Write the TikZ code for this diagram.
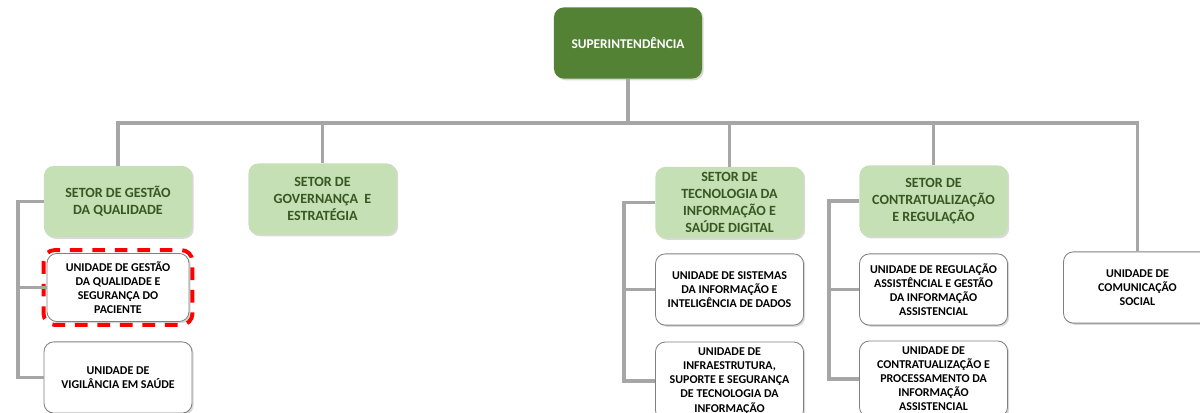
\documentclass[tikz,border=0pt]{standalone}
\usepackage{fontspec}
\setmainfont{Carlito}
\usepackage{tikz}
\usetikzlibrary{shadows}
\definecolor{supgreen}{HTML}{548235}
\definecolor{setorfill}{HTML}{C5E0B4}
\definecolor{setortext}{HTML}{385723}
\definecolor{linegray}{HTML}{A6A6A6}
\definecolor{boxgray}{HTML}{808080}

\begin{document}
\begin{tikzpicture}[x=0.025cm, y=-0.025cm,
        box/.style={rectangle, rounded corners=7pt, align=center, inner sep=2pt,
            minimum width=3.7cm, minimum height=1.78cm,
            drop shadow={shadow xshift=1.2pt, shadow yshift=-1.2pt, opacity=0.3}},
        sup/.style={box, fill=supgreen, text=white, font=\bfseries\fontsize{9.5}{11.5}\selectfont},
        setor/.style={box, fill=setorfill, text=setortext, font=\bfseries\fontsize{10}{12}\selectfont},
        unidade/.style={box, draw=boxgray, line width=0.6pt, fill=white, font=\bfseries\fontsize{8.5}{10}\selectfont},
        destaque/.style={draw=red, line width=2.8pt, dash pattern=on 9pt off 7pt, rounded corners=8pt},
        conn/.style={draw=linegray, line width=2.8pt}
    ]
        \useasboundingbox (0,0) rectangle (1200,413);
        \clip (0,0) rectangle (1200,413);

        \node[sup] (sup) at (628, 43) {SUPERINTENDÊNCIA};
        \coordinate (bus) at (628, 123);

        \node[setor] (sgq) at (118, 201.5) {SETOR DE GESTÃO\\DA QUALIDADE};
        \node[setor] (gov) at (322.5, 199) {SETOR DE\\GOVERNANÇA\ \ E\\ESTRATÉGIA};
        \node[setor] (ti) at (729.5, 202.5) {SETOR DE\\TECNOLOGIA DA\\INFORMAÇÃO E\\SAÚDE DIGITAL};
        \node[setor] (ctr) at (933.5, 201) {SETOR DE\\CONTRATUALIZAÇÃO\\E REGULAÇÃO};

        \node[unidade, minimum width=3.55cm, minimum height=1.7cm] (ugq) at (118, 287.5) {UNIDADE DE GESTÃO\\DA QUALIDADE E\\SEGURANÇA DO\\PACIENTE};
        \node[unidade] (vig) at (118, 377.5) {UNIDADE DE\\VIGILÂNCIA EM SAÚDE};
        \node[unidade] (sis) at (729.5, 289.5) {UNIDADE DE SISTEMAS\\DA INFORMAÇÃO E\\INTELIGÊNCIA DE DADOS};
        \node[unidade, minimum height=1.95cm] (inf) at (729.5, 381) {UNIDADE DE\\INFRAESTRUTURA,\\SUPORTE E SEGURANÇA\\DE TECNOLOGIA DA\\INFORMAÇÃO};
        \node[unidade] (reg) at (933.5, 289.5) {UNIDADE DE REGULAÇÃO\\ASSISTÊNCIAL E GESTÃO\\DA INFORMAÇÃO\\ASSISTENCIAL};
        \node[unidade, minimum height=1.9cm] (cpi) at (933.5, 379) {UNIDADE DE\\CONTRATUALIZAÇÃO E\\PROCESSAMENTO DA\\INFORMAÇÃO\\ASSISTENCIAL};
        \node[unidade] (com) at (1137.5, 287.5) {UNIDADE DE\\COMUNICAÇÃO\\SOCIAL};

        \draw[destaque] ([shift={(-3,-3)}]ugq.north west) rectangle ([shift={(3,3)}]ugq.south east);

        \draw[conn] (sup.south) -- (bus);
        \draw[conn] (sgq.north) |- (bus) -| (com.north);
        \draw[conn] (gov.north) -- (gov.north |- bus);
        \draw[conn] (ti.north) -- (ti.north |- bus);
        \draw[conn] (ctr.north) -- (ctr.north |- bus);

        \draw[conn] (sgq.west) -- ++(-26,0) coordinate (r1) |- (vig.west);
        \draw[conn] (ugq.west) -- (ugq.west -| r1);
        \draw[conn] (ti.west) -- ++(-31,0) coordinate (r2) |- (inf.west);
        \draw[conn] (sis.west) -- (sis.west -| r2);
        \draw[conn] (ctr.west) -- ++(-30,0) coordinate (r3) |- (cpi.west);
        \draw[conn] (reg.west) -- (reg.west -| r3);
    \end{tikzpicture}
\end{document}
